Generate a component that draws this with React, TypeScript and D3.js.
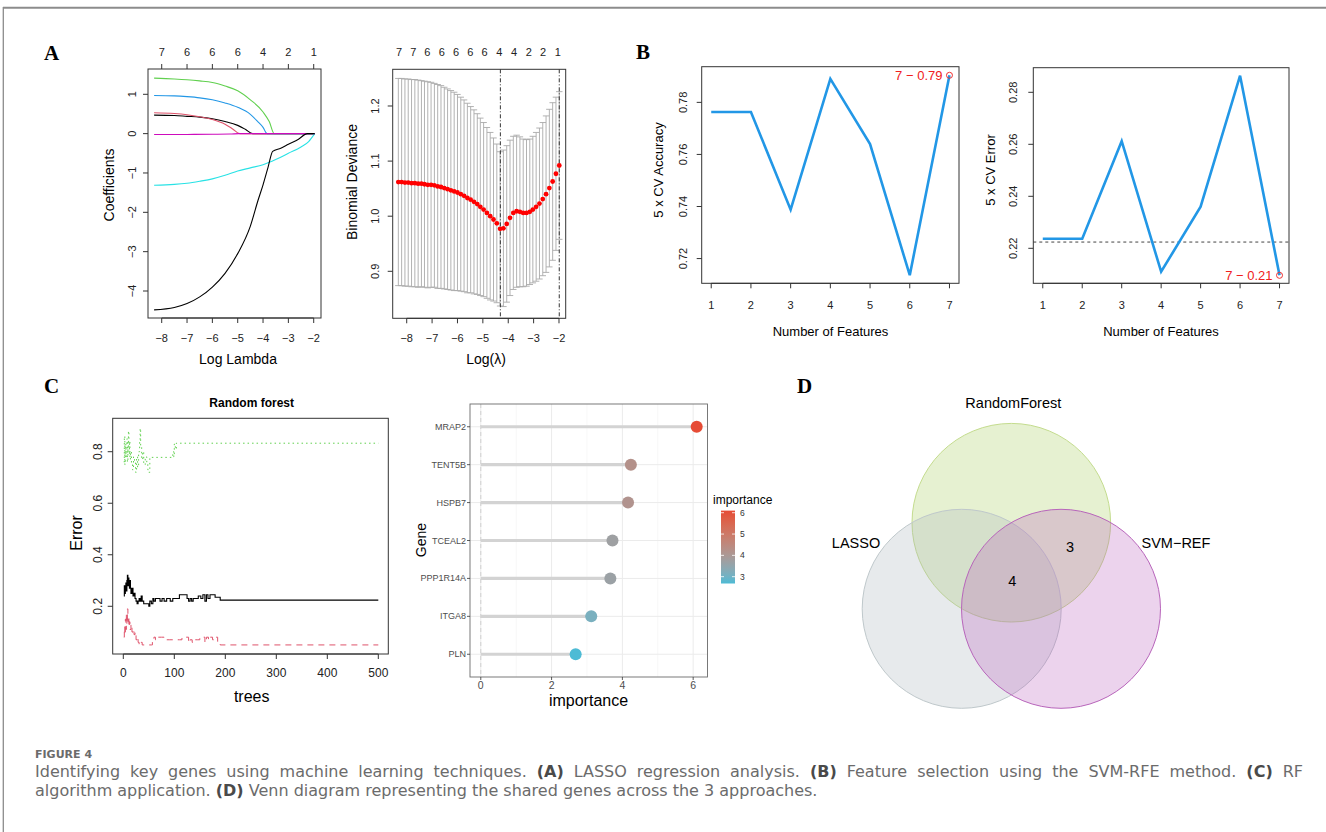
import React, { useLayoutEffect, useRef, useState } from 'react';
import * as d3 from 'd3';

const SANS = '"Liberation Sans", Arial, Helvetica, sans-serif';
const SERIF = '"Liberation Serif", "Times New Roman", serif';
const CAP = '"DejaVu Sans", "Open Sans", sans-serif';

// ---------------- Panel A (left): LASSO coefficient paths ----------------
const logLambdaTicks = [-8, -7, -6, -5, -4, -3, -2];
const coefDfLabels = ['7', '6', '6', '6', '4', '2', '1'];
const coefTicks = [-4, -3, -2, -1, 0, 1];
const pathBlackTop: [number, number][] = [[-8.3, 0.47], [-7.5, 0.46], [-7, 0.44], [-6.5, 0.42], [-6, 0.38], [-5.5, 0.31], [-5, 0.21], [-4.7, 0.11], [-4.41, 0], [-1.96, 0]];
const pathPink: [number, number][] = [[-8.3, 0.53], [-7.5, 0.51], [-7, 0.48], [-6.5, 0.43], [-6, 0.36], [-5.5, 0.24], [-5.2, 0.12], [-4.92, 0], [-1.96, 0]];
const pathGreen: [number, number][] = [[-8.3, 1.41], [-7.5, 1.39], [-7, 1.37], [-6.5, 1.34], [-6, 1.3], [-5.5, 1.21], [-5, 1.09], [-4.5, 0.86], [-4, 0.55], [-3.75, 0.3], [-3.56, 0], [-1.96, 0]];
const pathBlue: [number, number][] = [[-8.3, 0.97], [-7.5, 0.96], [-7, 0.94], [-6.5, 0.91], [-6, 0.86], [-5.5, 0.78], [-5, 0.67], [-4.5, 0.49], [-4.2, 0.3], [-4, 0.16], [-3.84, 0], [-1.96, 0]];
const pathCyan: [number, number][] = [[-8.3, -1.31], [-7.5, -1.29], [-7, -1.26], [-6.5, -1.21], [-6, -1.15], [-5.5, -1.06], [-5, -0.95], [-4.5, -0.87], [-4, -0.79], [-3.5, -0.66], [-3, -0.5], [-2.5, -0.34], [-2.2, -0.2], [-1.96, 0]];
const pathMagenta: [number, number][] = [[-8.3, -0.02], [-7, -0.02], [-6, -0.015], [-5.3, -0.01], [-4.95, 0], [-1.96, 0]];
const pathBlackBottom: [number, number][] = [[-8.3, -4.48], [-7.5, -4.42], [-7, -4.32], [-6.5, -4.15], [-6, -3.9], [-5.5, -3.55], [-5, -3.05], [-4.5, -2.35], [-4.2, -1.7], [-4, -1.3], [-3.8, -0.85], [-3.62, -0.45], [-3.3, -0.37], [-3, -0.27], [-2.6, -0.14], [-2.25, 0], [-1.96, 0]];
const coefColors = ['#000000', '#DF536B', '#61D04F', '#2297E6', '#28E2E5', '#CD0BBC', '#000000'];

// ---------------- Panel A (right): CV binomial deviance ----------------
const devTicks = [0.9, 1.0, 1.1, 1.2];
const devTopPos = [-8.3, -7.74, -7.19, -6.62, -6.06, -5.49, -4.93, -4.35, -3.77, -3.19, -2.63, -2.05];
const devTopLabels = ['7', '7', '6', '6', '6', '6', '6', '4', '4', '2', '2', '1'];
const devLogLambda = [-8.33, -8.2, -8.07, -7.94, -7.81, -7.68, -7.55, -7.42, -7.3, -7.17, -7.04, -6.91, -6.78, -6.65, -6.52, -6.39, -6.26, -6.13, -6.0, -5.87, -5.74, -5.61, -5.48, -5.35, -5.22, -5.1, -4.97, -4.84, -4.71, -4.58, -4.45, -4.32, -4.19, -4.06, -3.93, -3.8, -3.67, -3.54, -3.41, -3.28, -3.15, -3.03, -2.9, -2.77, -2.64, -2.51, -2.38, -2.25, -2.12, -1.99];
const devMean = [1.062, 1.062, 1.061, 1.061, 1.06, 1.06, 1.059, 1.059, 1.058, 1.057, 1.057, 1.056, 1.054, 1.053, 1.051, 1.049, 1.047, 1.045, 1.043, 1.04, 1.037, 1.033, 1.03, 1.026, 1.022, 1.017, 1.012, 1.006, 1.0, 0.994, 0.987, 0.977, 0.978, 0.986, 0.997, 1.006, 1.009, 1.008, 1.006, 1.006, 1.008, 1.012, 1.017, 1.023, 1.031, 1.04, 1.051, 1.063, 1.077, 1.092];
const devUpper = [1.25, 1.25, 1.249, 1.249, 1.248, 1.248, 1.247, 1.246, 1.245, 1.244, 1.243, 1.241, 1.239, 1.237, 1.234, 1.231, 1.228, 1.225, 1.221, 1.216, 1.211, 1.205, 1.199, 1.193, 1.186, 1.178, 1.17, 1.161, 1.152, 1.142, 1.131, 1.117, 1.12, 1.128, 1.138, 1.145, 1.147, 1.144, 1.14, 1.139, 1.14, 1.145, 1.152, 1.16, 1.17, 1.182, 1.194, 1.206, 1.216, 1.226];
const lambdaMin = -4.31;
const lambda1se = -1.99;

// ---------------- Panel B: SVM-RFE ----------------
const nFeatures = [1, 2, 3, 4, 5, 6, 7];
const cvAccuracy = [0.7763, 0.7763, 0.7388, 0.789, 0.764, 0.7136, 0.7904];
const cvError = [0.2237, 0.2237, 0.2612, 0.211, 0.236, 0.2864, 0.2096];
const accTicks = [0.72, 0.74, 0.76, 0.78];
const errTicks = [0.22, 0.24, 0.26, 0.28];
const errRefLine = 0.2224;

// ---------------- Panel C (left): random forest error ----------------
const treeTicks = [0, 100, 200, 300, 400, 500];
const rfErrTicks = [0.2, 0.4, 0.6, 0.8];
const rfOOB: [number, number][] = [[1, 0.24], [2, 0.28], [3, 0.25], [4, 0.27], [5, 0.29], [6, 0.26], [7, 0.3], [8, 0.32], [9, 0.28], [10, 0.31], [11, 0.29], [12, 0.27], [13, 0.3], [14, 0.27], [15, 0.25], [17, 0.27], [19, 0.24], [21, 0.25], [23, 0.23], [25, 0.22], [27, 0.21], [29, 0.22], [31, 0.23], [33, 0.22], [35, 0.24], [37, 0.22], [40, 0.21], [45, 0.21], [50, 0.2], [52, 0.22], [55, 0.21], [58, 0.23], [60, 0.22], [63, 0.23], [68, 0.23], [72, 0.22], [76, 0.23], [80, 0.22], [85, 0.23], [92, 0.22], [97, 0.23], [105, 0.23], [110, 0.245], [120, 0.245], [125, 0.23], [128, 0.22], [131, 0.23], [134, 0.22], [137, 0.23], [142, 0.23], [147, 0.24], [152, 0.23], [156, 0.245], [160, 0.22], [163, 0.245], [166, 0.23], [170, 0.245], [176, 0.245], [180, 0.235], [190, 0.224], [500, 0.224]];
const rfClass0: [number, number][] = [[1, 0.08], [2, 0.12], [3, 0.09], [4, 0.15], [5, 0.11], [6, 0.17], [7, 0.13], [8, 0.19], [9, 0.14], [10, 0.16], [11, 0.12], [12, 0.14], [13, 0.11], [15, 0.13], [17, 0.1], [19, 0.11], [21, 0.09], [23, 0.1], [25, 0.07], [27, 0.08], [29, 0.06], [31, 0.05], [35, 0.06], [37, 0.05], [55, 0.05], [57, 0.07], [60, 0.08], [63, 0.07], [67, 0.08], [75, 0.08], [80, 0.07], [90, 0.07], [100, 0.07], [110, 0.07], [115, 0.08], [125, 0.08], [128, 0.06], [131, 0.07], [135, 0.06], [140, 0.07], [145, 0.07], [150, 0.08], [155, 0.08], [160, 0.06], [163, 0.08], [167, 0.07], [170, 0.08], [175, 0.07], [180, 0.08], [185, 0.06], [190, 0.05], [500, 0.05]];
const rfClass1: [number, number][] = [[1, 0.76], [2, 0.86], [3, 0.75], [4, 0.83], [5, 0.78], [6, 0.8], [7, 0.85], [8, 0.76], [9, 0.82], [10, 0.88], [11, 0.79], [12, 0.84], [13, 0.77], [14, 0.8], [16, 0.75], [18, 0.73], [20, 0.78], [22, 0.76], [24, 0.72], [26, 0.78], [28, 0.74], [30, 0.8], [32, 0.84], [33, 0.89], [34, 0.82], [36, 0.77], [38, 0.8], [40, 0.75], [43, 0.78], [46, 0.76], [48, 0.73], [50, 0.72], [52, 0.778], [95, 0.778], [97, 0.8], [99, 0.78], [100, 0.83], [102, 0.81], [104, 0.833], [500, 0.833]];

// ---------------- Panel C (right): gene importance ----------------
const genes = ['MRAP2', 'TENT5B', 'HSPB7', 'TCEAL2', 'PPP1R14A', 'ITGA8', 'PLN'];
const importance = [6.1, 4.24, 4.16, 3.72, 3.66, 3.12, 2.68];
const impTicks = [0, 2, 4, 6];
const impMinor = [1, 3, 5];
const legendTicks = [3, 4, 5, 6];

// ---------------- Panel D: Venn ----------------
const vennSets = ['RandomForest', 'LASSO', 'SVM\u2212REF'];
const vennCounts = ['4', '3'];

const caption1 = [
  { t: 'Identifying key genes using machine learning techniques.', b: false },
  { t: '(A)', b: true },
  { t: 'LASSO regression analysis.', b: false },
  { t: '(B)', b: true },
  { t: 'Feature selection using the SVM-RFE method.', b: false },
  { t: '(C)', b: true },
  { t: 'RF', b: false },
];
const caption2 = [
  { t: 'algorithm application. ', b: false },
  { t: '(D)', b: true },
  { t: ' Venn diagram representing the shared genes across the 3 approaches.', b: false },
];
const captionWords = caption1.flatMap(s => s.t.split(' ').map(w => ({ w, b: s.b })));
const CAP_SIZE = 16;

const minus = (v: string) => v.replace('-', '\u2212');

type Box = { x0: number; x1: number; y0: number; y1: number };

function VText(props: { x: number; y: number; size: number; children: any; fill?: string; weight?: any; family?: string }) {
  return (
    <text transform={`translate(${props.x},${props.y}) rotate(-90)`} textAnchor="middle" dominantBaseline="central"
      fontSize={props.size} fill={props.fill || '#000'} fontWeight={props.weight} fontFamily={props.family}>
      {props.children}
    </text>
  );
}

function RBox({ b }: { b: Box }) {
  return <rect x={b.x0} y={b.y0} width={b.x1 - b.x0} height={b.y1 - b.y0} fill="none" stroke="#333" strokeWidth={1} />;
}

function BottomAxis({ b, ticks, scale, labelY, size, fmt }: { b: Box; ticks: number[]; scale: any; labelY: number; size: number; fmt: (v: number) => string }) {
  return (
    <g>
      <line x1={scale(ticks[0])} x2={scale(ticks[ticks.length - 1])} y1={b.y1} y2={b.y1} stroke="#333" />
      {ticks.map((t, i) => (
        <g key={i}>
          <line x1={scale(t)} x2={scale(t)} y1={b.y1} y2={b.y1 + 5} stroke="#333" />
          <text x={scale(t)} y={labelY} textAnchor="middle" dominantBaseline="central" fontSize={size} fill="#222">{fmt(t)}</text>
        </g>
      ))}
    </g>
  );
}

function LeftAxis({ b, ticks, scale, labelX, size, fmt }: { b: Box; ticks: number[]; scale: any; labelX: number; size: number; fmt: (v: number) => string }) {
  return (
    <g>
      {ticks.map((t, i) => (
        <g key={i}>
          <line x1={b.x0 - 5} x2={b.x0} y1={scale(t)} y2={scale(t)} stroke="#333" />
          <VText x={labelX} y={scale(t)} size={size} fill="#222">{fmt(t)}</VText>
        </g>
      ))}
    </g>
  );
}

function JustifiedLine({ x, y, width }: { x: number; y: number; width: number }) {
  const refs = useRef<(SVGTextElement | null)[]>([]);
  const [xs, setXs] = useState<number[]>(() => {
    let cx = x;
    return captionWords.map(c => { const p = cx; cx += c.w.length * 8.6 + 6; return p; });
  });
  useLayoutEffect(() => {
    const ws = captionWords.map((_, i) => (refs.current[i] ? refs.current[i]!.getComputedTextLength() : 0));
    const total = ws.reduce((a, b) => a + b, 0);
    const gap = (width - total) / (captionWords.length - 1);
    let cx = x;
    const next = ws.map(w => { const p = cx; cx += w + gap; return p; });
    if (next.some((v, i) => Math.abs(v - xs[i]) > 0.3)) setXs(next);
  }, [xs]);
  return (
    <g>
      {captionWords.map((c, i) => (
        <text key={i} ref={el => { refs.current[i] = el; }} x={xs[i]} y={y} fontSize={CAP_SIZE}
          fontWeight={c.b ? 600 : 400} fill={c.b ? '#4a4a4a' : '#6b6b6b'}>{c.w}</text>
      ))}
    </g>
  );
}

export default function App() {
  // ---- A1
  const a1: Box = { x0: 148, x1: 321, y0: 69, y1: 318 };
  const xA1 = d3.scaleLinear().domain([-8.541, -1.712]).range([a1.x0, a1.x1]);
  const yA1 = d3.scaleLinear().domain([-4.686, 1.643]).range([a1.y1, a1.y0]);
  const lineA1 = d3.line<[number, number]>().x(d => xA1(d[0])).y(d => yA1(d[1])).curve(d3.curveMonotoneX);
  const coefPaths = [pathBlackTop, pathPink, pathGreen, pathBlue, pathCyan, pathMagenta, pathBlackBottom];

  // ---- A2
  const a2: Box = { x0: 392.7, x1: 565.7, y0: 69.3, y1: 318.3 };
  const xA2 = d3.scaleLinear().domain([-8.552, -1.736]).range([a2.x0, a2.x1]);
  const yA2 = d3.scaleLinear().domain([0.8147, 1.2666]).range([a2.y1, a2.y0]);
  const barW = (devLogLambda[devLogLambda.length - 1] - devLogLambda[0]) * 0.02;

  // ---- B
  const b1: Box = { x0: 701.7, x1: 959, y0: 66.7, y1: 283.3 };
  const xB1 = d3.scaleLinear().domain([0.76, 7.24]).range([b1.x0, b1.x1]);
  const yB1 = d3.scaleLinear().domain([0.7105, 0.7937]).range([b1.y1, b1.y0]);
  const b2: Box = { x0: 1033.3, x1: 1289, y0: 67.7, y1: 283.3 };
  const xB2 = d3.scaleLinear().domain([0.76, 7.24]).range([b2.x0, b2.x1]);
  const yB2 = d3.scaleLinear().domain([0.20654, 0.28946]).range([b2.y1, b2.y0]);
  const lineB1 = d3.line<number>().x((_, i) => xB1(nFeatures[i])).y(d => yB1(d));
  const lineB2 = d3.line<number>().x((_, i) => xB2(nFeatures[i])).y(d => yB2(d));
  const last = nFeatures.length - 1;

  // ---- C1
  const c1: Box = { x0: 112.7, x1: 388.3, y0: 418.3, y1: 654 };
  const xC1 = d3.scaleLinear().domain([-20.8, 519.6]).range([c1.x0, c1.x1]);
  const yC1 = d3.scaleLinear().domain([0.0148, 0.9297]).range([c1.y1, c1.y0]);
  const lineC1 = d3.line<[number, number]>().x(d => xC1(d[0])).y(d => yC1(d[1])).curve(d3.curveStepAfter);

  // ---- C2
  const c2: Box = { x0: 470, x1: 707.5, y0: 404, y1: 677 };
  const xC2 = d3.scaleLinear().domain([-0.305, 6.405]).range([c2.x0, c2.x1]);
  const yC2 = d3.scalePoint<string>().domain(genes).range([c2.y0, c2.y1]).padding(0.6);
  const impMin = d3.min(importance) as number;
  const impMax = d3.max(importance) as number;
  const colC2 = d3.scaleLinear<string>().domain([impMin, impMax]).range(['#4DBBD5', '#E64B35']).interpolate(d3.interpolateLab);
  const legTop = 510.6, legBot = 583.5;
  const yLeg = d3.scaleLinear().domain([impMin, impMax]).range([legBot, legTop]);
  const gradStops = d3.range(0, 11).map(i => impMin + (impMax - impMin) * i / 10);

  return (
    <svg width={1326} height={832} style={{ position: 'absolute', left: 0, top: 0 }} fontFamily={SANS}>
      <rect x={0} y={0} width={1326} height={832} fill="#ffffff" />
      {/* frame */}
      <line x1={3} x2={1326} y1={7.7} y2={7.7} stroke="#8c8c8c" strokeWidth={2} />
      <line x1={3.3} x2={3.3} y1={7} y2={832} stroke="#8c8c8c" strokeWidth={1.3} />

      {/* panel letters */}
      <text x={44} y={60} fontFamily={SERIF} fontWeight="bold" fontSize={21}>A</text>
      <text x={636} y={59.3} fontFamily={SERIF} fontWeight="bold" fontSize={21}>B</text>
      <text x={44} y={393.3} fontFamily={SERIF} fontWeight="bold" fontSize={21}>C</text>
      <text x={797} y={392.7} fontFamily={SERIF} fontWeight="bold" fontSize={21}>D</text>

      {/* ===== A1 ===== */}
      <g>
        {coefPaths.map((p, i) => (
          <path key={i} d={lineA1(p) || ''} fill="none" stroke={coefColors[i]} strokeWidth={1.1} />
        ))}
        <RBox b={a1} />
        <BottomAxis b={a1} ticks={logLambdaTicks} scale={xA1} labelY={338} size={11} fmt={v => minus(String(v))} />
        {logLambdaTicks.map((t, i) => (
          <g key={i}>
            <line x1={xA1(t)} x2={xA1(t)} y1={a1.y0} y2={a1.y0 - 5} stroke="#333" />
            <text x={xA1(t)} y={52} textAnchor="middle" dominantBaseline="central" fontSize={11} fill="#222">{coefDfLabels[i]}</text>
          </g>
        ))}
        <LeftAxis b={a1} ticks={coefTicks} scale={yA1} labelX={132} size={11} fmt={v => minus(String(v))} />
        <text x={238} y={359} textAnchor="middle" dominantBaseline="central" fontSize={14}>Log Lambda</text>
        <VText x={109} y={185} size={14}>Coefficients</VText>
      </g>

      {/* ===== A2 ===== */}
      <g>
        {devLogLambda.map((x, i) => {
          const lo = 2 * devMean[i] - devUpper[i];
          return (
            <g key={i} stroke="#A9A9A9" strokeWidth={0.9}>
              <line x1={xA2(x)} x2={xA2(x)} y1={yA2(devUpper[i])} y2={yA2(lo)} />
              <line x1={xA2(x - barW)} x2={xA2(x + barW)} y1={yA2(devUpper[i])} y2={yA2(devUpper[i])} />
              <line x1={xA2(x - barW)} x2={xA2(x + barW)} y1={yA2(lo)} y2={yA2(lo)} />
            </g>
          );
        })}
        <line x1={xA2(lambdaMin)} x2={xA2(lambdaMin)} y1={a2.y0} y2={a2.y1} stroke="#333" strokeDasharray="4,2,1,2" />
        <line x1={xA2(lambda1se)} x2={xA2(lambda1se)} y1={a2.y0} y2={a2.y1} stroke="#333" strokeDasharray="4,2,1,2" />
        {devLogLambda.map((x, i) => (
          <circle key={i} cx={xA2(x)} cy={yA2(devMean[i])} r={2.4} fill="#FF0000" />
        ))}
        <RBox b={a2} />
        <BottomAxis b={a2} ticks={logLambdaTicks} scale={xA2} labelY={338} size={11} fmt={v => minus(String(v))} />
        {devTopPos.map((t, i) => (
          <text key={i} x={xA2(t)} y={52} textAnchor="middle" dominantBaseline="central" fontSize={11} fill="#222">{devTopLabels[i]}</text>
        ))}
        <LeftAxis b={a2} ticks={devTicks} scale={yA2} labelX={375} size={11} fmt={v => v.toFixed(1)} />
        <text x={486} y={359} textAnchor="middle" dominantBaseline="central" fontSize={14}>Log(λ)</text>
        <VText x={351.7} y={182} size={14}>Binomial Deviance</VText>
      </g>

      {/* ===== B1 ===== */}
      <g>
        <path d={lineB1(cvAccuracy) || ''} fill="none" stroke="#2297E6" strokeWidth={2.6} strokeLinejoin="miter" />
        <circle cx={xB1(nFeatures[last])} cy={yB1(cvAccuracy[last])} r={3} fill="none" stroke="#F03030" strokeWidth={1} />
        <text x={xB1(nFeatures[last]) - 7} y={yB1(cvAccuracy[last])} textAnchor="end" dominantBaseline="central" fontSize={13} fill="#F02020">
          {`${nFeatures[last]} \u2212 ${cvAccuracy[last].toFixed(2)}`}
        </text>
        <RBox b={b1} />
        <BottomAxis b={b1} ticks={nFeatures} scale={xB1} labelY={305} size={11} fmt={v => String(v)} />
        <LeftAxis b={b1} ticks={accTicks} scale={yB1} labelX={682.7} size={11} fmt={v => v.toFixed(2)} />
        <text x={830.5} y={331.7} textAnchor="middle" dominantBaseline="central" fontSize={13}>Number of Features</text>
        <VText x={658.3} y={170} size={13}>5 x CV Accuracy</VText>
      </g>

      {/* ===== B2 ===== */}
      <g>
        <line x1={b2.x0} x2={b2.x1} y1={yB2(errRefLine)} y2={yB2(errRefLine)} stroke="#444" strokeDasharray="3,3" />
        <path d={lineB2(cvError) || ''} fill="none" stroke="#2297E6" strokeWidth={2.6} />
        <circle cx={xB2(nFeatures[last])} cy={yB2(cvError[last])} r={3} fill="none" stroke="#F03030" strokeWidth={1} />
        <text x={xB2(nFeatures[last]) - 7} y={yB2(cvError[last])} textAnchor="end" dominantBaseline="central" fontSize={13} fill="#F02020">
          {`${nFeatures[last]} \u2212 ${cvError[last].toFixed(2)}`}
        </text>
        <RBox b={b2} />
        <BottomAxis b={b2} ticks={nFeatures} scale={xB2} labelY={305} size={11} fmt={v => String(v)} />
        <LeftAxis b={b2} ticks={errTicks} scale={yB2} labelX={1013.3} size={11} fmt={v => v.toFixed(2)} />
        <text x={1161} y={331.7} textAnchor="middle" dominantBaseline="central" fontSize={13}>Number of Features</text>
        <VText x={990} y={170} size={13}>5 x CV Error</VText>
      </g>

      {/* ===== C1 ===== */}
      <g>
        <path d={lineC1(rfClass1) || ''} fill="none" stroke="#61D04F" strokeWidth={1} strokeDasharray="1.5,3" />
        <path d={lineC1(rfClass0) || ''} fill="none" stroke="#DF536B" strokeWidth={1} strokeDasharray="6,5" />
        <path d={lineC1(rfOOB) || ''} fill="none" stroke="#000" strokeWidth={1.1} />
        <RBox b={c1} />
        <BottomAxis b={c1} ticks={treeTicks} scale={xC1} labelY={673.3} size={12} fmt={v => String(v)} />
        <LeftAxis b={c1} ticks={rfErrTicks} scale={yC1} labelX={98.3} size={12} fmt={v => v.toFixed(1)} />
        <text x={251.7} y={403.3} textAnchor="middle" dominantBaseline="central" fontSize={12} fontWeight="bold">Random forest</text>
        <text x={251.7} y={696.7} textAnchor="middle" dominantBaseline="central" fontSize={16}>trees</text>
        <VText x={76.7} y={533} size={16}>Error</VText>
      </g>

      {/* ===== C2 ===== */}
      <g>
        <rect x={c2.x0} y={c2.y0} width={c2.x1 - c2.x0} height={c2.y1 - c2.y0} fill="#fff" />
        {impMinor.map((t, i) => (
          <line key={'mn' + i} x1={xC2(t)} x2={xC2(t)} y1={c2.y0} y2={c2.y1} stroke="#F2F2F2" strokeWidth={0.6} />
        ))}
        {impTicks.map((t, i) => (
          <line key={'mj' + i} x1={xC2(t)} x2={xC2(t)} y1={c2.y0} y2={c2.y1} stroke="#EBEBEB" strokeWidth={1} />
        ))}
        {genes.map((g, i) => (
          <line key={'hg' + i} x1={c2.x0} x2={c2.x1} y1={yC2(g)} y2={yC2(g)} stroke="#EBEBEB" strokeWidth={1} />
        ))}
        <line x1={xC2(0)} x2={xC2(0)} y1={c2.y0} y2={c2.y1} stroke="#D0D0D0" strokeDasharray="4,3" />
        {genes.map((g, i) => (
          <line key={'sg' + i} x1={xC2(0)} x2={xC2(importance[i])} y1={yC2(g)} y2={yC2(g)} stroke="#D3D3D3" strokeWidth={3.2} />
        ))}
        {genes.map((g, i) => (
          <circle key={'pt' + i} cx={xC2(importance[i])} cy={yC2(g)} r={6} fill={colC2(importance[i])} />
        ))}
        <rect x={c2.x0} y={c2.y0} width={c2.x1 - c2.x0} height={c2.y1 - c2.y0} fill="none" stroke="#6a6a6a" strokeWidth={0.9} />
        {genes.map((g, i) => (
          <g key={'yl' + i}>
            <line x1={c2.x0 - 3} x2={c2.x0} y1={yC2(g)} y2={yC2(g)} stroke="#333" strokeWidth={0.8} />
            <text x={c2.x0 - 4} y={yC2(g)} textAnchor="end" dominantBaseline="central" fontSize={9} fill="#4D4D4D">{g}</text>
          </g>
        ))}
        {impTicks.map((t, i) => (
          <g key={'xl' + i}>
            <line x1={xC2(t)} x2={xC2(t)} y1={c2.y1} y2={c2.y1 + 3} stroke="#333" strokeWidth={0.8} />
            <text x={xC2(t)} y={684.5} textAnchor="middle" dominantBaseline="central" fontSize={10.5} fill="#4D4D4D">{t}</text>
          </g>
        ))}
        <text x={588.5} y={700} textAnchor="middle" dominantBaseline="central" fontSize={16}>importance</text>
        <VText x={421} y={540} size={14}>Gene</VText>
        {/* legend */}
        <defs>
          <linearGradient id="impGrad" x1="0" y1="1" x2="0" y2="0">
            {gradStops.map((v, i) => (
              <stop key={i} offset={`${i * 10}%`} stopColor={colC2(v)} />
            ))}
          </linearGradient>
        </defs>
        <text x={713} y={499.5} dominantBaseline="central" fontSize={12}>importance</text>
        <rect x={721} y={legTop} width={14} height={legBot - legTop} fill="url(#impGrad)" />
        {legendTicks.map((t, i) => (
          <g key={'lg' + i}>
            <line x1={721} x2={724} y1={yLeg(t)} y2={yLeg(t)} stroke="#fff" strokeWidth={0.8} />
            <line x1={732} x2={735} y1={yLeg(t)} y2={yLeg(t)} stroke="#fff" strokeWidth={0.8} />
            <text x={740} y={yLeg(t)} dominantBaseline="central" fontSize={8.5} fill="#333">{t}</text>
          </g>
        ))}
      </g>

      {/* ===== D Venn ===== */}
      <g>
        <circle cx={1011.3} cy={522.7} r={99.3} fill="#A6CE58" fillOpacity={0.28} stroke="#C4DC8E" strokeWidth={1} />
        <circle cx={961.7} cy={608.8} r={99.5} fill="#A9B5B9" fillOpacity={0.28} stroke="#BFC8CB" strokeWidth={1} />
        <circle cx={1061} cy={608.8} r={99.5} fill="#B455B8" fillOpacity={0.26} stroke="#B865BB" strokeWidth={1} />
        <text x={1013.3} y={403.3} textAnchor="middle" dominantBaseline="central" fontSize={14.5}>{vennSets[0]}</text>
        <text x={856} y={543.3} textAnchor="middle" dominantBaseline="central" fontSize={14.5}>{vennSets[1]}</text>
        <text x={1141.5} y={543.3} textAnchor="start" dominantBaseline="central" fontSize={14.5}>{vennSets[2]}</text>
        <text x={1012.3} y={581} textAnchor="middle" dominantBaseline="central" fontSize={14.5}>{vennCounts[0]}</text>
        <text x={1070} y={547.3} textAnchor="middle" dominantBaseline="central" fontSize={14.5}>{vennCounts[1]}</text>
      </g>

      {/* ===== caption ===== */}
      <g fontFamily={CAP}>
        <text x={35} y={757.5} fontSize={11} fontWeight={600} fill="#6b6b6b">FIGURE 4</text>
        <JustifiedLine x={35} y={776.5} width={1268} />
        <text x={35} y={795.5} fontSize={CAP_SIZE} fill="#6b6b6b">
          {caption2.map((s, i) => (
            <tspan key={i} fontWeight={s.b ? 600 : 400} fill={s.b ? '#4a4a4a' : '#6b6b6b'}>{s.t}</tspan>
          ))}
        </text>
      </g>
    </svg>
  );
}
